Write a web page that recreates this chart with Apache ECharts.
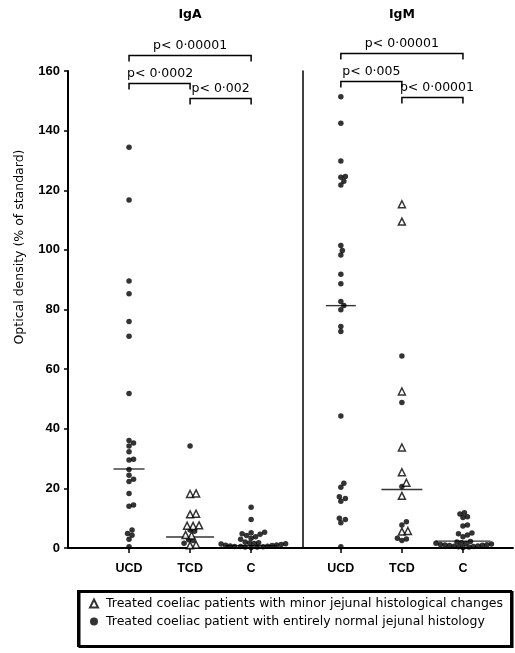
<!DOCTYPE html>
<html><head><meta charset="utf-8">
<script src="https://cdn.jsdelivr.net/npm/echarts@6/dist/echarts.min.js"></script>
<style>html,body{margin:0;padding:0;background:#fff}#c{width:515px;height:653px}</style>
</head><body><div id="c"></div>
<script>
// ---------- data ----------
const categories = ['UCD', 'TCD', 'C'];
const panels = ['IgA', 'IgM'];
const yAxisTitle = 'Optical density (% of standard)';
const legendTriangle = 'Treated coeliac patients with minor jejunal histological changes';
const legendDot = 'Treated coeliac patient with entirely normal jejunal histology';

const igaUCDDots = [134.4, 116.7, 89.6, 85.3, 76.0, 71.0, 51.8, 36.1, 35.2, 34.2, 32.3, 29.8, 29.5, 26.3, 24.4, 23.1, 22.3, 18.3, 14.4, 14.0, 6.0, 4.9, 4.3, 2.9, 0.4];
const igaTCDDots = [34.2, 6.0, 5.6, 2.8, 2.5, 1.6];
const igaTCDTriangles = [18.3, 18.1, 11.5, 11.3, 7.6, 7.5, 7.4, 4.4, 4.2, 1.1, 0.9];
const igaCDots = [13.7, 9.6, 5.3, 5.1, 4.8, 4.6, 4.2, 3.8, 3.3, 2.9, 2.0, 1.8, 1.7, 1.5, 1.4, 1.3, 1.2, 1.0, 0.9, 0.8, 0.7, 0.6, 0.5, 0.5, 0.4, 0.3, 0.3, 0.2];

const igmUCDDots = [151.4, 142.5, 129.8, 124.6, 124.4, 123.0, 121.8, 101.5, 99.8, 98.3, 91.8, 88.6, 82.7, 81.3, 79.9, 74.3, 72.6, 44.3, 21.7, 20.4, 17.2, 16.6, 15.7, 10.0, 9.6, 8.5, 0.4];
const igmTCDDots = [64.4, 48.8, 20.6, 8.8, 7.7, 3.3, 3.0, 2.5];
const igmTCDTriangles = [115.3, 109.5, 52.5, 33.7, 25.4, 21.9, 17.5, 5.7, 5.5];
const igmCDots = [11.8, 11.4, 10.5, 10.2, 7.7, 7.4, 5.0, 4.8, 4.4, 3.8, 2.2, 2.0, 1.8, 1.6, 1.5, 1.3, 1.2, 1.1, 1.0, 0.9, 0.8, 0.7, 0.6, 0.5, 0.4, 0.3, 0.2];

const igaMedians = [26.5, 3.7, 0.8];
const igmMedians = [81.3, 19.6, 2.3];

const igaTests = [
  { from: 0, to: 2, level: 165.4, label: 'p< 0·00001' },
  { from: 0, to: 1, level: 156.0, label: 'p< 0·0002' },
  { from: 1, to: 2, level: 151.0, label: 'p< 0·002' }
];
const igmTests = [
  { from: 0, to: 2, level: 166.1, label: 'p< 0·00001' },
  { from: 0, to: 1, level: 156.7, label: 'p< 0·005' },
  { from: 1, to: 2, level: 151.3, label: 'p< 0·00001' }
];

// ---------- layout / style ----------
const FONT = '"Liberation Sans", Arial, Helvetica, sans-serif';
const TFONT = '"DejaVu Sans", "Liberation Sans", sans-serif';
const GRID_TOP = 71, GRID_H = 477, Y_MAX = 160;
const PX = GRID_H / Y_MAX;
const DOT = 5.5, TRI = 7;
const medianWidths = [[31, 48, 52], [30, 41, 55]];

const dotsByPanel = [[igaUCDDots, igaTCDDots, igaCDots], [igmUCDDots, igmTCDDots, igmCDots]];
const trisByPanel = [[[], igaTCDTriangles, []], [[], igmTCDTriangles, []]];
const mediansByPanel = [igaMedians, igmMedians];
const testsByPanel = [igaTests, igmTests];

// simple beeswarm: horizontal offsets computed so marks don't overlap
function swarm(dots, tris) {
  const pts = [];
  dots.forEach(v => pts.push({ v, kind: 'dot', size: DOT }));
  tris.forEach(v => pts.push({ v, kind: 'tri', size: TRI }));
  pts.sort((a, b) => a.v - b.v);
  const placed = [];
  const step = 1.5;
  pts.forEach(p => {
    const py = p.v * PX;
    for (let k = 0; k < 400; k++) {
      const dx = (k % 2 === 1 ? 1 : -1) * Math.ceil(k / 2) * step + 0;
      const ok = placed.every(q => {
        const r = (q.size + p.size) / 2 * 0.82;
        return Math.hypot(q.dx - dx, q.py - py) >= r;
      });
      if (ok) { p.dx = dx; p.py = py; placed.push(p); break; }
    }
  });
  return pts;
}

const series = [];
for (let p = 0; p < 2; p++) {
  const dotData = [], triData = [], medData = [];
  for (let c = 0; c < categories.length; c++) {
    swarm(dotsByPanel[p][c], trisByPanel[p][c]).forEach(pt => {
      const item = { value: [c, pt.v], symbolOffset: [pt.dx || 0, 0] };
      (pt.kind === 'dot' ? dotData : triData).push(item);
    });
    medData.push({ value: [c, mediansByPanel[p][c]], symbolSize: [medianWidths[p][c], 1.4] });
  }
  series.push({
    type: 'scatter', name: 'median', xAxisIndex: p, yAxisIndex: p, symbol: 'rect',
    data: medData, itemStyle: { color: '#000' }, z: 2, silent: true
  });
  series.push({
    type: 'scatter', name: legendDot, xAxisIndex: p, yAxisIndex: p, symbol: 'circle', symbolSize: DOT,
    data: dotData, itemStyle: { color: '#000' }, z: 3
  });
  series.push({
    type: 'scatter', name: legendTriangle, xAxisIndex: p, yAxisIndex: p, symbol: 'triangle', symbolSize: TRI,
    data: triData, itemStyle: { color: '#fff', borderColor: '#000', borderWidth: 1.5 }, z: 4
  });
}

function xAxisFor(p, min, max) {
  return {
    gridIndex: p, type: 'value', min, max,
    splitLine: { show: false },
    axisLine: { show: true, onZero: false, lineStyle: { color: '#000', width: 2 } },
    axisTick: { show: true, customValues: [0, 1, 2], length: 5, lineStyle: { color: '#000', width: 1.5 } },
    axisLabel: {
      customValues: [0, 1, 2], formatter: v => categories[Math.round(v)] || '',
      color: '#000', fontWeight: 'bold', fontSize: 12.5, fontFamily: FONT, margin: 14
    }
  };
}

const option = {
  animation: false,
  backgroundColor: '#fff',
  textStyle: { fontFamily: FONT },
  grid: [
    { left: 68, top: GRID_TOP, width: 235, height: GRID_H },
    { left: 303, top: GRID_TOP, width: 210, height: GRID_H }
  ],
  xAxis: [xAxisFor(0, -1, 2.85), xAxisFor(1, -0.62, 2.82)],
  yAxis: [
    {
      gridIndex: 0, type: 'value', min: 0, max: Y_MAX, interval: 20,
      splitLine: { show: false },
      axisLine: { show: true, onZero: false, lineStyle: { color: '#000', width: 2 } },
      axisTick: { show: true, length: 4, lineStyle: { color: '#000', width: 1.5 } },
      axisLabel: { color: '#000', fontWeight: 'bold', fontSize: 13, fontFamily: FONT, margin: 8 }
    },
    {
      gridIndex: 1, type: 'value', min: 0, max: Y_MAX, interval: 20,
      splitLine: { show: false },
      axisLine: { show: true, onZero: false, lineStyle: { color: '#000', width: 1.5 } },
      axisTick: { show: false }, axisLabel: { show: false }
    }
  ],
  legend: {
    orient: 'vertical', left: 78, top: 591,
    data: [{ name: legendTriangle, icon: 'triangle' }, { name: legendDot, icon: 'circle' }],
    itemWidth: 8, itemHeight: 8, itemGap: 5,
    padding: [6, 8, 18, 11],
    borderColor: '#000', borderWidth: 2,
    shadowColor: '#000', shadowOffsetX: 1.5, shadowOffsetY: 1, shadowBlur: 0,
    backgroundColor: '#fff',
    textStyle: { color: '#000', fontSize: 12.5, fontFamily: TFONT, padding: [0, 0, 0, 3] },
    selectedMode: false
  },
  series
};

const chart = echarts.init(document.getElementById('c'), null, { renderer: 'canvas' });
chart.setOption(option);

// annotations (titles, significance brackets, y-axis title) positioned through the axes
const PFONT = '12.5px ' + TFONT;
const ctx = document.createElement('canvas').getContext('2d');
ctx.font = PFONT;
const graphics = [];
for (let p = 0; p < 2; p++) {
  const head = chart.convertToPixel({ xAxisIndex: p, yAxisIndex: p }, [1, 0]);
  graphics.push({
    type: 'text', x: head[0], y: 15,
    style: { text: panels[p], font: 'bold 12.5px ' + TFONT, fill: '#000', align: 'center', verticalAlign: 'middle', textAlign: 'center', textVerticalAlign: 'middle' }
  });
  testsByPanel[p].forEach(t => {
    const a = chart.convertToPixel({ xAxisIndex: p, yAxisIndex: p }, [t.from, t.level]);
    const b = chart.convertToPixel({ xAxisIndex: p, yAxisIndex: p }, [t.to, t.level]);
    const y = Math.round(a[1]) + 0.5;
    graphics.push({
      type: 'polyline',
      shape: { points: [[a[0], y + 6], [a[0], y], [b[0], y], [b[0], y + 6]] },
      style: { stroke: '#000', lineWidth: 1.5, fill: null }
    });
    const w = ctx.measureText(t.label).width;
    const cx = Math.max((a[0] + b[0]) / 2, a[0] + w / 2 - 2);
    graphics.push({
      type: 'text', x: cx, y: y - 10,
      style: { text: t.label, font: PFONT, fill: '#000', align: 'center', verticalAlign: 'middle', textAlign: 'center', textVerticalAlign: 'middle' }
    });
  });
}
graphics.push({
  type: 'text', x: 20, y: 247, rotation: Math.PI / 2,
  style: { text: yAxisTitle, font: '12.5px ' + TFONT, fill: '#000', align: 'center', verticalAlign: 'middle', textAlign: 'center', textVerticalAlign: 'middle' }
});
chart.setOption({ graphic: graphics });
</script>
</body></html>
